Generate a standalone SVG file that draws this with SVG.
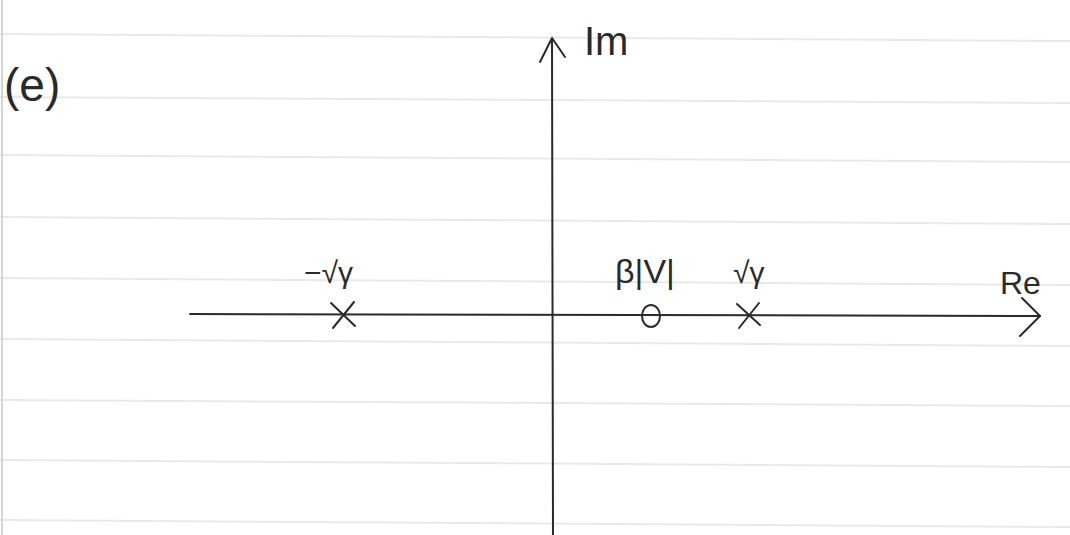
<svg xmlns="http://www.w3.org/2000/svg" width="1070" height="535" viewBox="0 0 1070 535">
<style>
.rule{stroke:#e9e9e9;stroke-width:2;fill:none}
.ax{stroke:#2a2a2a;stroke-width:2;fill:none;stroke-linecap:round;stroke-linejoin:round}
.mk{stroke:#2a2a2a;stroke-width:2;fill:none;stroke-linecap:round}
.t{font-family:"Liberation Sans",sans-serif;fill:#2a2a2a}
</style>
<rect width="1070" height="535" fill="#ffffff"/>
<g id="paper">
<line class="rule" x1="0" y1="34" x2="1070" y2="41"/>
<line class="rule" x1="0" y1="97" x2="1070" y2="103"/>
<line class="rule" x1="0" y1="155" x2="1070" y2="162"/>
<line class="rule" x1="0" y1="217" x2="1070" y2="224"/>
<line class="rule" x1="0" y1="278" x2="1070" y2="285"/>
<line class="rule" x1="0" y1="339" x2="1070" y2="346"/>
<line class="rule" x1="0" y1="400" x2="1070" y2="406"/>
<line class="rule" x1="0" y1="460" x2="1070" y2="467"/>
<line class="rule" x1="0" y1="520" x2="1070" y2="527"/>
<line x1="2" y1="0" x2="2" y2="535" stroke="#d5d5d5" stroke-width="2"/>
</g>
<g id="connectors">
<line class="ax" x1="552" y1="40" x2="553" y2="535"/>
<polyline class="ax" points="540,62 552,38 565,57"/>
<line class="ax" x1="190" y1="314" x2="1040" y2="316"/>
<polyline class="ax" points="1022,298 1040,316 1020,336"/>
</g>
<g id="label-e"><text class="t" x="4" y="101" font-size="46" font-weight="300">(e)</text></g>
<g id="label-im"><text class="t" x="584" y="55" font-size="40">Im</text></g>
<g id="label-re"><text class="t" x="1000" y="294" font-size="32">Re</text></g>
<g id="pole-left">
<line class="mk" x1="331" y1="303" x2="355" y2="326"/>
<line class="mk" x1="354" y1="302" x2="333" y2="328"/>
<text class="t" x="304" y="283" font-size="30">−√γ</text>
</g>
<g id="zero">
<ellipse class="mk" cx="651" cy="316" rx="9" ry="11"/>
<text class="t" x="615" y="283" font-size="34">β|V|</text>
</g>
<g id="pole-right">
<line class="mk" x1="737" y1="304" x2="760" y2="325"/>
<line class="mk" x1="759" y1="303" x2="739" y2="328"/>
<text class="t" x="733" y="283" font-size="30">√γ</text>
</g>
</svg>
